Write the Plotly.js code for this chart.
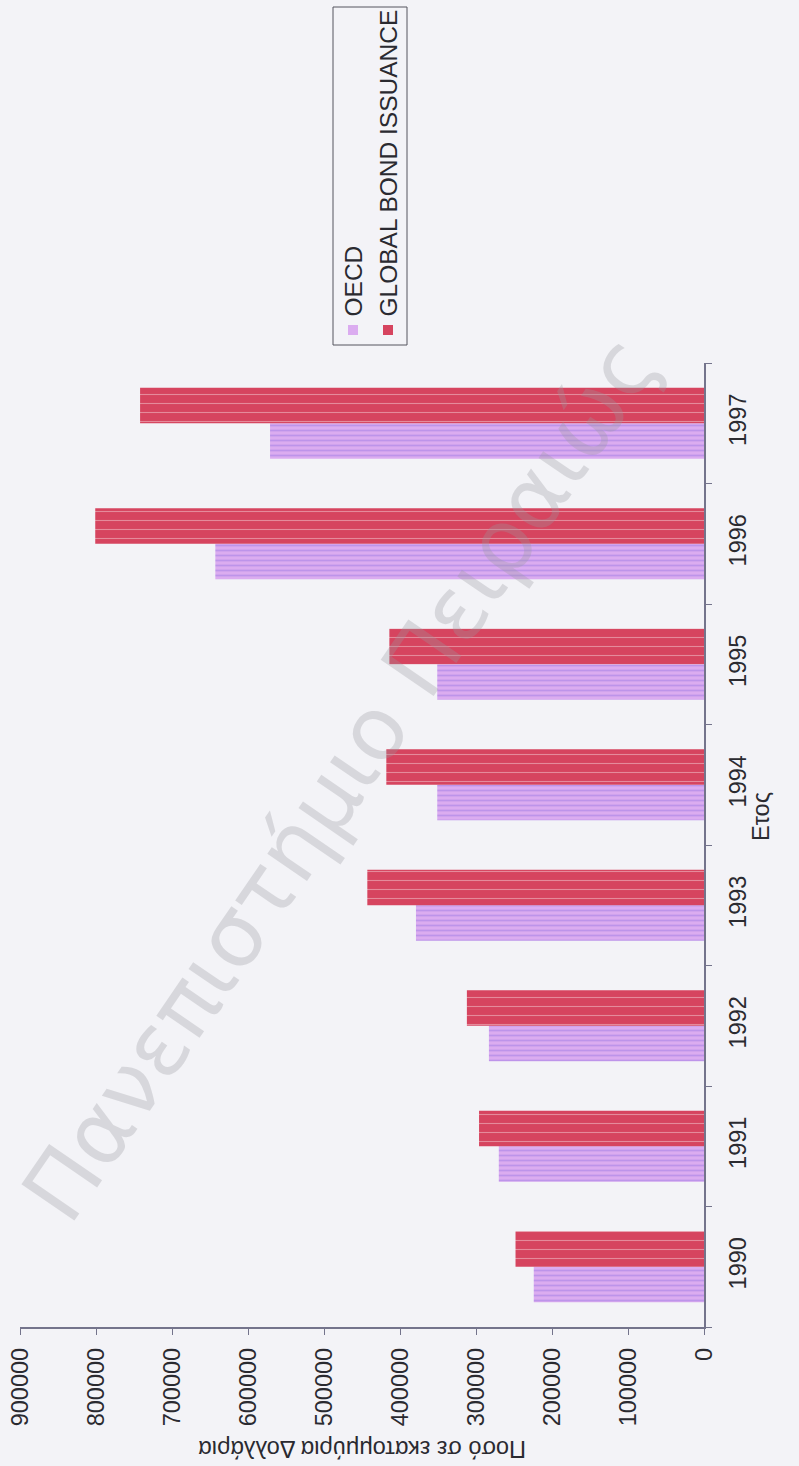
<!DOCTYPE html>
<html>
<head>
<meta charset="utf-8">
<script src="https://cdn.plot.ly/plotly-3.0.1.min.js"></script>
<style>
  html, body { margin: 0; padding: 0; background: #f3f3f7; }
  #chart { width: 799px; height: 1466px; }
</style>
</head>
<body>
<div id="chart"></div>
<script>
// Bond issuance per year, in millions of dollars
const years = ['1990', '1991', '1992', '1993', '1994', '1995', '1996', '1997'];
const oecd = [224000, 270000, 283000, 379000, 351000, 351000, 643000, 571000];
const globalIssuance = [248000, 296000, 312000, 443000, 418000, 414000, 801000, 742000];
const seriesNames = ['OECD', 'GLOBAL BOND ISSUANCE'];
const valueTicks = [0, 100000, 200000, 300000, 400000, 500000, 600000, 700000, 800000, 900000];

const W = 799, H = 1466;
const M = { l: 20, r: 95, t: 363, b: 139 };
const plotW = W - M.l - M.r, plotH = H - M.t - M.b;
// pixel -> paper helpers for the rotated legend and titles
const px = x => (x - M.l) / plotW;
const py = y => (H - M.b - y) / plotH;

const font = 'Liberation Sans, Arial, sans-serif';
const ink = '#2a2a30';
const axisColor = '#74748c';
const oecdColor = '#dbacf0';
const globalColor = '#d6445f';

const traces = [
  {
    type: 'bar', orientation: 'h', name: seriesNames[0],
    y: years, x: oecd,
    marker: { color: oecdColor, line: { width: 0 },
      pattern: { shape: '-', fgcolor: '#bd94ea', bgcolor: oecdColor, size: 5, solidity: 0.35 } }
  },
  {
    type: 'bar', orientation: 'h', name: seriesNames[1],
    y: years, x: globalIssuance,
    marker: { color: globalColor, line: { width: 0 },
      pattern: { shape: '-', fgcolor: '#e58a9b', bgcolor: globalColor, size: 9, solidity: 0.12 } }
  }
];

const sq = 5;
const layout = {
  width: W, height: H,
  margin: M,
  paper_bgcolor: '#f3f3f7', plot_bgcolor: '#f3f3f7',
  showlegend: false,
  barmode: 'group', bargap: 0.41, bargroupgap: 0,
  font: { family: font, size: 23, color: ink },
  xaxis: {
    range: [900000, 0], tickvals: valueTicks, tickformat: 'd',
    tickangle: -90, ticks: 'outside', ticklen: 6, tickcolor: axisColor,
    ticklabelstandoff: 4,
    showline: true, linecolor: axisColor, linewidth: 1.5,
    showgrid: false, zeroline: false,
    tickfont: { family: font, size: 23.5, color: ink }
  },
  yaxis: {
    type: 'category', categoryorder: 'array', categoryarray: years,
    side: 'right', tickangle: -90, ticks: 'outside', tickson: 'boundaries',
    ticklen: 6, tickcolor: axisColor, ticklabelstandoff: 12,
    showline: true, linecolor: axisColor, linewidth: 1.5,
    showgrid: false, zeroline: false,
    tickfont: { family: font, size: 23.5, color: ink }
  },
  shapes: [
    { type: 'rect', xref: 'paper', yref: 'paper',
      x0: px(333), x1: px(407), y0: py(345), y1: py(7),
      line: { color: '#55555f', width: 1 }, fillcolor: 'rgba(0,0,0,0)' },
    { type: 'rect', xref: 'paper', yref: 'paper',
      x0: px(353 - sq), x1: px(353 + sq), y0: py(330 + sq), y1: py(330 - sq),
      line: { width: 0 }, fillcolor: oecdColor },
    { type: 'rect', xref: 'paper', yref: 'paper',
      x0: px(388 - sq), x1: px(388 + sq), y0: py(330 + sq), y1: py(330 - sq),
      line: { width: 0 }, fillcolor: globalColor }
  ],
  annotations: [
    { text: seriesNames[0], xref: 'paper', yref: 'paper',
      x: px(353), y: py(319), xanchor: 'center', yanchor: 'bottom',
      textangle: -90, showarrow: false, font: { family: font, size: 24.5, color: ink } },
    { text: seriesNames[1], xref: 'paper', yref: 'paper',
      x: px(388), y: py(319), xanchor: 'center', yanchor: 'bottom',
      textangle: -90, showarrow: false, font: { family: font, size: 24.5, color: ink } },
    { text: 'Ποσό σε εκατομμύρια Δολλάρια', xref: 'paper', yref: 'paper',
      x: 0.5, y: py(1449), xanchor: 'center', yanchor: 'middle',
      textangle: 180, showarrow: false, font: { family: font, size: 23.5, color: ink } },
    { text: 'Ετος', xref: 'paper', yref: 'paper',
      x: px(761), y: py(817), xanchor: 'center', yanchor: 'middle',
      textangle: -90, showarrow: false, font: { family: font, size: 23.5, color: ink } },
    { text: 'Πανεπιστήμιο Πειραιώς', xref: 'paper', yref: 'paper',
      x: px(340), y: py(778), xanchor: 'center', yanchor: 'middle',
      textangle: -55.6, showarrow: false, opacity: 0.3,
      font: { family: 'DejaVu Sans, sans-serif', size: 88, color: '#9a9aa0' } }
  ]
};

Plotly.newPlot('chart', traces, layout, { staticPlot: true, displayModeBar: false });
</script>
</body>
</html>
